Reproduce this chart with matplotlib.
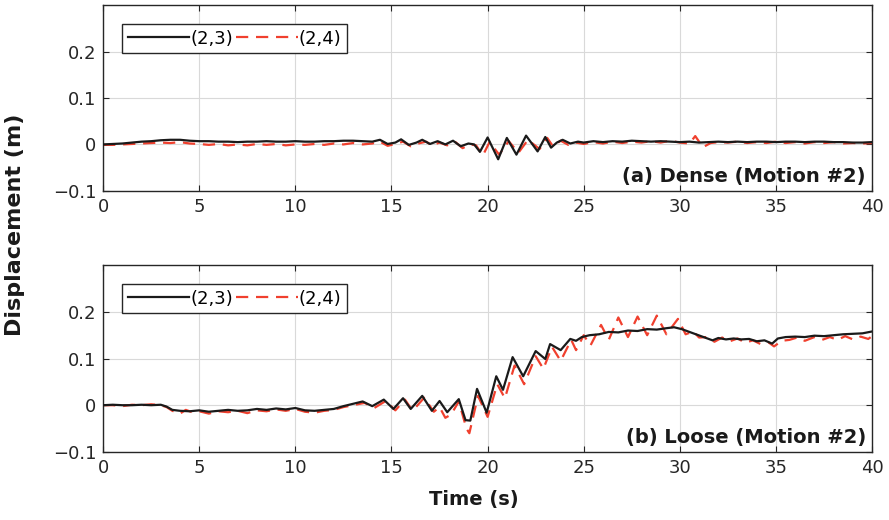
import matplotlib.pyplot as plt
import numpy as np

# (a) Dense, Motion #2
t_dense_23 = [0, 0.5, 1, 1.5, 2, 2.5, 3, 3.5, 4, 4.5, 5, 5.5, 6, 6.5, 7, 7.5, 8, 8.5, 9, 9.5,
              10, 10.5, 11, 11.5, 12, 12.5, 13, 13.5, 14, 14.4, 14.8, 15.2, 15.5, 15.9, 16.3, 16.6,
              17.0, 17.4, 17.8, 18.2, 18.6, 19.0, 19.3, 19.6, 20.0, 20.55, 21.0, 21.5, 22.0, 22.6,
              23.0, 23.3, 23.6, 23.9, 24.3, 24.7, 25, 25.5, 26, 26.5, 27, 27.5, 28, 28.5, 29, 29.5,
              30, 30.5, 31, 31.5, 32, 32.5, 33, 33.5, 34, 34.5, 35, 35.5, 36, 36.5, 37, 37.5, 38,
              38.5, 39, 39.5, 40]
d_dense_23 = [0.000, 0.001, 0.002, 0.004, 0.006, 0.007, 0.009, 0.010, 0.010, 0.008, 0.007, 0.007,
              0.006, 0.006, 0.005, 0.006, 0.006, 0.007, 0.006, 0.006, 0.007, 0.006, 0.006, 0.007,
              0.007, 0.008, 0.008, 0.007, 0.006, 0.010, 0.001, 0.004, 0.011, -0.001, 0.004, 0.010,
              0.001, 0.007, 0.000, 0.008, -0.004, 0.002, 0.000, -0.016, 0.015, -0.032, 0.014, -0.022,
              0.019, -0.015, 0.016, -0.007, 0.004, 0.010, 0.002, 0.006, 0.004, 0.007, 0.005, 0.007,
              0.006, 0.008, 0.007, 0.006, 0.007, 0.006, 0.005, 0.006, 0.004, 0.005, 0.006, 0.005,
              0.006, 0.005, 0.006, 0.006, 0.005, 0.006, 0.006, 0.005, 0.006, 0.006, 0.005, 0.005,
              0.004, 0.004, 0.005]

t_dense_24 = [0, 0.5, 1, 1.5, 2, 2.5, 3, 3.5, 4, 4.5, 5, 5.5, 6, 6.5, 7, 7.5, 8, 8.5, 9, 9.5,
              10, 10.5, 11, 11.5, 12, 12.5, 13, 13.5, 14, 14.4, 14.8, 15.2, 15.6, 16.0, 16.4, 16.8,
              17.1, 17.5, 17.9, 18.3, 18.7, 19.1, 19.4, 19.75, 20.1, 20.6, 21.1, 21.6, 22.1, 22.7,
              23.1, 23.4, 23.8, 24.2, 24.6, 25, 25.5, 26, 26.5, 27, 27.5, 28, 28.5, 29, 29.5, 30,
              30.5, 30.8, 31.2, 31.6, 32, 32.5, 33, 33.5, 34, 34.5, 35, 35.5, 36, 36.5, 37, 37.5,
              38, 38.5, 39, 39.5, 40]
d_dense_24 = [-0.001, -0.001, 0.000, 0.001, 0.002, 0.003, 0.004, 0.003, 0.005, 0.002, 0.001, -0.001,
              0.001, -0.002, 0.000, -0.002, 0.001, -0.001, 0.001, -0.002, 0.000, -0.001, 0.001, -0.001,
              0.002, 0.000, 0.003, 0.000, 0.002, 0.006, -0.003, 0.001, 0.006, -0.004, 0.002, 0.006,
              -0.002, 0.004, -0.002, 0.006, -0.008, 0.000, -0.002, -0.024, 0.005, -0.022, 0.007, -0.018,
              0.010, -0.010, 0.014, -0.004, 0.008, -0.001, 0.004, 0.001, 0.005, 0.002, 0.006, 0.003,
              0.006, 0.004, 0.007, 0.004, 0.008, 0.004, 0.002, 0.018, -0.006, 0.003, 0.005, 0.004,
              0.006, 0.003, 0.005, 0.003, 0.006, 0.003, 0.005, 0.002, 0.005, 0.003, 0.005, 0.002,
              0.003, 0.002, 0.003]

# (b) Loose, Motion #2
t_loose_23 = [0, 0.5, 1, 1.5, 2, 2.5, 3, 3.3, 3.6, 4, 4.5, 5, 5.5, 6, 6.5, 7, 7.5, 8, 8.5, 9,
              9.5, 10, 10.5, 11, 11.5, 12, 12.5, 13, 13.5, 14.0, 14.6, 15.1, 15.6, 16.0, 16.6, 17.1,
              17.5, 17.9, 18.5, 18.85, 19.1, 19.45, 19.95, 20.45, 20.8, 21.3, 21.85, 22.5, 23.0, 23.25,
              23.8, 24.3, 24.6, 24.9, 25.3, 25.8, 26.3, 26.8, 27.3, 27.8, 28.3, 28.8, 29.3, 29.7,
              30.1, 30.5, 30.9, 31.3, 31.7, 32.0, 32.4, 32.8, 33.2, 33.6, 34.0, 34.4, 34.8, 35.1,
              35.5, 36, 36.5, 37, 37.5, 38, 38.5, 39, 39.5, 40]
d_loose_23 = [0.000, 0.001, 0.000, 0.000, 0.001, 0.000, 0.001, -0.003, -0.010, -0.012, -0.013, -0.011,
              -0.014, -0.012, -0.010, -0.012, -0.011, -0.008, -0.010, -0.007, -0.009, -0.006, -0.011,
              -0.012, -0.010, -0.008, -0.002, 0.003, 0.008, -0.002, 0.012, -0.008, 0.015, -0.008,
              0.020, -0.012, 0.009, -0.015, 0.013, -0.032, -0.033, 0.035, -0.016, 0.062, 0.033, 0.103,
              0.062, 0.116, 0.099, 0.131, 0.118, 0.142, 0.138, 0.146, 0.150, 0.152, 0.157, 0.156,
              0.160, 0.159, 0.163, 0.162, 0.165, 0.167, 0.163, 0.157, 0.151, 0.145, 0.139, 0.144,
              0.141, 0.143, 0.141, 0.142, 0.137, 0.139, 0.132, 0.143, 0.146, 0.147, 0.146, 0.149,
              0.148, 0.150, 0.152, 0.153, 0.154, 0.158]

t_loose_24 = [0, 0.5, 1, 1.5, 2, 2.5, 3, 3.3, 3.6, 4, 4.3, 4.7, 5, 5.5, 6, 6.5, 7, 7.5, 8, 8.5,
              9, 9.5, 10, 10.5, 11, 11.5, 12, 12.5, 13, 13.6, 14.1, 14.7, 15.2, 15.7, 16.1, 16.7,
              17.2, 17.5, 17.8, 18.1, 18.5, 18.9, 19.05, 19.5, 20.0, 20.5, 20.9, 21.4, 21.9, 22.5,
              22.9, 23.35, 23.8, 24.35, 24.6, 25.0, 25.35, 25.9, 26.3, 26.8, 27.3, 27.8, 28.3, 28.8,
              29.3, 29.9, 30.3, 30.7, 31.0, 31.4, 31.8, 32.2, 32.6, 33.0, 33.4, 33.8, 34.2, 34.6,
              34.9, 35.3, 35.7, 36.1, 36.5, 37, 37.4, 37.8, 38.2, 38.6, 39, 39.4, 39.8, 40]
d_loose_24 = [0.000, 0.000, -0.002, 0.001, 0.000, 0.002, 0.000, -0.004, -0.012, -0.018, -0.010,
              -0.016, -0.013, -0.018, -0.013, -0.015, -0.012, -0.017, -0.011, -0.013, -0.009, -0.012,
              -0.008, -0.014, -0.016, -0.012, -0.010, -0.004, 0.000, 0.005, -0.006, 0.009, -0.011,
              0.012, -0.012, 0.016, -0.014, -0.004, -0.027, -0.020, 0.008, -0.050, -0.060, 0.020,
              -0.025, 0.045, 0.015, 0.085, 0.045, 0.105, 0.078, 0.125, 0.095, 0.140, 0.118, 0.150,
              0.128, 0.172, 0.140, 0.188, 0.146, 0.190, 0.150, 0.192, 0.152, 0.185, 0.152, 0.158,
              0.145, 0.146, 0.136, 0.145, 0.137, 0.143, 0.134, 0.139, 0.131, 0.135, 0.126, 0.138,
              0.140, 0.145, 0.138, 0.146, 0.140, 0.146, 0.140, 0.148, 0.141, 0.147, 0.142, 0.148]

panels = [
    (t_dense_23, d_dense_23, t_dense_24, d_dense_24, '(a) Dense (Motion #2)'),
    (t_loose_23, d_loose_23, t_loose_24, d_loose_24, '(b) Loose (Motion #2)'),
]

plt.rcParams['font.family'] = ['DejaVu Sans']
plt.rcParams['axes.unicode_minus'] = True

fig = plt.figure(figsize=(8.89, 5.2), dpi=100)
positions = [[0.116, 0.633, 0.865, 0.357], [0.116, 0.131, 0.865, 0.359]]

red = '#f0402e'
for pos, (ta, da, tb, db, label) in zip(positions, panels):
    ax = fig.add_axes(pos)
    ax.plot(ta, da, color='#1a1a1a', lw=1.6, label='(2,3)', zorder=3)
    ax.plot(tb, db, color=red, lw=1.6, ls=(0, (5.5, 3.5)), label='(2,4)', zorder=2)
    ax.set_xlim(0, 40)
    ax.set_ylim(-0.1, 0.3)
    ax.set_xticks(np.arange(0, 41, 5))
    ax.set_yticks([-0.1, 0, 0.1, 0.2])
    ax.set_yticklabels(['\u22120.1', '0', '0.1', '0.2'])
    ax.grid(True, color='#d9d9d9', lw=0.8)
    ax.set_axisbelow(True)
    ax.tick_params(direction='in', top=True, right=True, length=4, width=0.8,
                   labelsize=13, pad=5, colors='#262626')
    for sp in ax.spines.values():
        sp.set_color('#262626')
        sp.set_linewidth(1.0)
    leg = ax.legend(loc='upper left', bbox_to_anchor=(0.025, 0.898), borderaxespad=0,
                    ncol=2, fontsize=13, handlelength=3.4, handletextpad=0.05,
                    columnspacing=0.2, borderpad=0.3, fancybox=False, framealpha=1)
    leg.get_frame().set_edgecolor('#262626')
    leg.get_frame().set_linewidth(1.0)
    ax.text(0.992, 0.025, label, transform=ax.transAxes, ha='right', va='bottom',
            fontsize=14, fontweight='bold', color='#1a1a1a')

fig.text(0.017, 0.567, 'Displacement (m)', rotation=90, ha='center', va='center',
         fontsize=16, fontweight='bold', color='#1a1a1a')
fig.text(0.533, 0.04, 'Time (s)', ha='center', va='center',
         fontsize=14, fontweight='bold', color='#1a1a1a')

fig.savefig('out.png', dpi=100)
